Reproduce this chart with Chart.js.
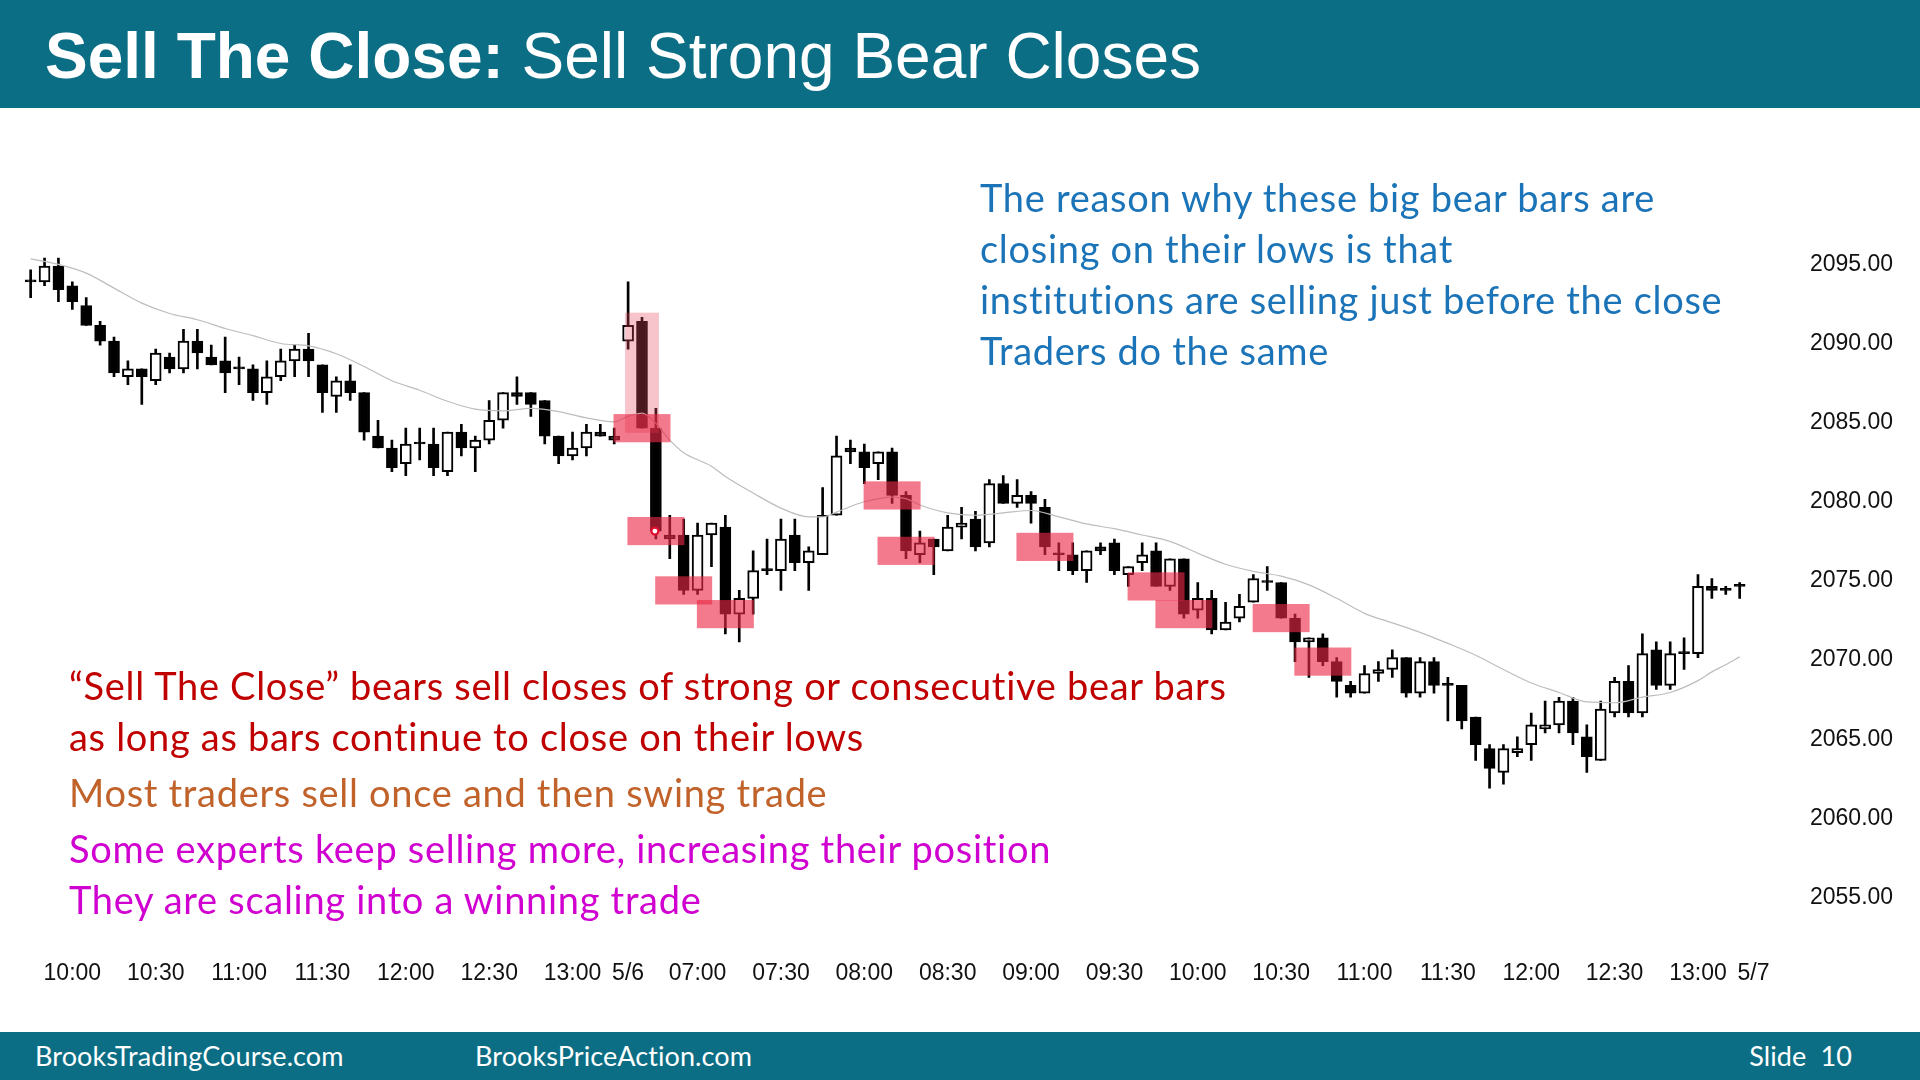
<!DOCTYPE html>
<html lang="en">
<head>
<meta charset="utf-8">
<title>Sell The Close</title>
<script src="https://cdn.jsdelivr.net/npm/chart.js@4.4.0/dist/chart.umd.min.js"></script>
<style>
  html, body { margin: 0; padding: 0; }
  body { width: 1920px; height: 1080px; position: relative; overflow: hidden; background: #fff; font-family: Lato, "Open Sans", sans-serif; }
  .band { position: absolute; left: 0; width: 1920px; background: #0b6e85; color: #fff; }
  #header { top: 0; height: 108px; }
  #title { position: absolute; left: 45px; top: 2px; line-height: 108px; font-family: "Liberation Sans", Arial, sans-serif; font-size: 64px; white-space: nowrap; }
  #footer { top: 1032px; height: 48px; font-size: 27px; line-height: 48px; letter-spacing: 0.1px; }
  #footer span { position: absolute; top: 0; white-space: nowrap; }
  #chartBox { position: absolute; left: 0; top: 108px; width: 1920px; height: 924px; }
  .note { position: absolute; white-space: nowrap; font-size: 38px; letter-spacing: 0.7px; line-height: 51px; }
</style>
</head>
<body>
<div id="header" class="band"><div id="title"><b>Sell The Close:</b> Sell Strong Bear Closes</div></div>

<div id="chartBox"><canvas id="priceChart" width="1920" height="924"></canvas></div>

<div class="note" style="left:980px; top:172px; color:#1b74b8;">The reason why these big bear bars are<br>closing on their lows is that<br>institutions are selling just before the close<br>Traders do the same</div>
<div class="note" style="left:69px; top:660px; color:#c00000;">“Sell The Close” bears sell closes of strong or consecutive bear bars<br>as long as bars continue to close on their lows</div>
<div class="note" style="left:69px; top:767px; color:#c0622a;">Most traders sell once and then swing trade</div>
<div class="note" style="left:69px; top:823px; color:#d000d0;">Some experts keep selling more, increasing their position<br>They are scaling into a winning trade</div>

<div id="footer" class="band">
  <span style="left:35px">BrooksTradingCourse.com</span>
  <span style="left:475px">BrooksPriceAction.com</span>
  <span style="right:68px">Slide&nbsp;&nbsp;10</span>
</div>

<script>
// 5 minuutin kynttilät: [open, high, low, close]
const day1Bars = [
  [2093.75, 2094.5, 2092.75, 2093.75],
  [2093.75, 2095.25, 2093.5, 2094.75],
  [2094.75, 2095.25, 2092.5, 2093.25],
  [2093.5, 2093.75, 2092.0, 2092.5],
  [2092.25, 2092.75, 2091.0, 2091.0],
  [2091.0, 2091.25, 2089.75, 2090.0],
  [2090.0, 2090.25, 2087.75, 2088.0],
  [2087.75, 2088.75, 2087.25, 2088.25],
  [2088.25, 2088.25, 2086.0, 2087.75],
  [2087.5, 2089.5, 2087.25, 2089.25],
  [2089.0, 2089.25, 2088.0, 2088.25],
  [2088.25, 2090.75, 2088.0, 2090.0],
  [2090.0, 2090.75, 2088.25, 2089.25],
  [2089.0, 2089.75, 2088.5, 2088.5],
  [2088.75, 2090.25, 2086.75, 2088.0],
  [2088.25, 2089.0, 2087.25, 2088.25],
  [2088.25, 2088.5, 2086.25, 2086.75],
  [2086.75, 2088.75, 2086.0, 2087.75],
  [2087.75, 2089.5, 2087.5, 2088.75],
  [2088.75, 2089.75, 2087.75, 2089.5],
  [2089.5, 2090.5, 2087.75, 2088.75],
  [2088.5, 2088.5, 2085.5, 2086.75],
  [2086.5, 2087.75, 2085.5, 2087.5],
  [2087.5, 2088.5, 2086.25, 2086.75],
  [2086.75, 2086.75, 2083.75, 2084.25],
  [2084.0, 2085.0, 2083.25, 2083.25],
  [2083.25, 2083.75, 2081.75, 2082.0],
  [2082.25, 2084.5, 2081.5, 2083.5],
  [2083.5, 2084.5, 2082.5, 2083.5],
  [2083.5, 2084.5, 2081.5, 2082.0],
  [2081.75, 2084.25, 2081.5, 2084.25],
  [2084.25, 2084.75, 2082.75, 2083.25],
  [2083.25, 2084.0, 2081.75, 2083.75],
  [2083.75, 2086.25, 2083.5, 2085.0],
  [2085.0, 2086.75, 2084.5, 2086.75],
  [2086.75, 2087.75, 2086.0, 2086.5],
  [2086.75, 2086.75, 2085.25, 2086.0],
  [2086.25, 2086.25, 2083.5, 2084.0],
  [2084.0, 2084.0, 2082.25, 2082.75],
  [2082.75, 2084.25, 2082.5, 2083.25],
  [2083.25, 2084.75, 2082.75, 2084.25],
  [2084.25, 2084.75, 2084.0, 2084.0],
  [2084.0, 2084.5, 2083.5, 2083.75]
];

const day2Bars = [
  [2090.0, 2093.75, 2089.5, 2091.0],
  [2091.25, 2091.5, 2084.5, 2084.5],
  [2084.5, 2085.75, 2077.5, 2078.0],
  [2077.75, 2079.0, 2076.25, 2077.5],
  [2077.75, 2078.75, 2074.0, 2074.25],
  [2074.25, 2078.5, 2074.0, 2077.75],
  [2077.75, 2078.5, 2075.75, 2078.5],
  [2078.25, 2079.0, 2071.5, 2072.75],
  [2072.75, 2074.25, 2071.0, 2073.75],
  [2073.75, 2076.75, 2072.75, 2075.5],
  [2075.5, 2077.5, 2075.25, 2075.5],
  [2075.5, 2078.75, 2074.25, 2077.5],
  [2077.75, 2078.75, 2075.5, 2076.0],
  [2076.0, 2077.0, 2074.25, 2076.75],
  [2076.5, 2080.75, 2076.5, 2079.0],
  [2079.0, 2084.0, 2079.0, 2082.75],
  [2083.25, 2083.75, 2082.25, 2083.0],
  [2083.0, 2083.5, 2081.0, 2082.0],
  [2082.25, 2083.0, 2081.25, 2083.0],
  [2083.0, 2083.25, 2079.75, 2080.25],
  [2080.25, 2080.5, 2076.25, 2076.75],
  [2076.5, 2078.0, 2076.0, 2077.25],
  [2077.5, 2077.5, 2075.25, 2077.0],
  [2076.75, 2079.0, 2076.75, 2078.25],
  [2078.25, 2079.5, 2077.5, 2078.5],
  [2078.75, 2079.25, 2076.75, 2077.0],
  [2077.25, 2081.25, 2077.0, 2081.0],
  [2081.0, 2081.5, 2079.75, 2079.75],
  [2079.75, 2081.25, 2079.5, 2080.25],
  [2080.25, 2080.5, 2078.5, 2079.75],
  [2079.5, 2080.0, 2076.5, 2077.0],
  [2076.5, 2077.25, 2075.5, 2076.5],
  [2076.5, 2077.25, 2075.25, 2075.5],
  [2075.5, 2076.75, 2074.75, 2076.75],
  [2077.0, 2077.25, 2076.5, 2076.75],
  [2077.25, 2077.5, 2075.25, 2075.5],
  [2075.25, 2075.75, 2074.5, 2075.75],
  [2076.0, 2077.25, 2075.5, 2076.5],
  [2076.75, 2077.25, 2074.5, 2074.5],
  [2074.5, 2076.25, 2074.25, 2076.25],
  [2076.25, 2076.25, 2072.5, 2072.75],
  [2073.0, 2074.75, 2072.5, 2073.75],
  [2073.75, 2074.25, 2071.5, 2071.75],
  [2071.75, 2073.5, 2071.75, 2072.25],
  [2072.5, 2074.0, 2072.25, 2073.25],
  [2073.5, 2075.25, 2073.5, 2075.0],
  [2074.75, 2075.75, 2074.25, 2074.75],
  [2074.75, 2074.75, 2072.5, 2072.5],
  [2072.5, 2072.75, 2069.75, 2071.0],
  [2071.0, 2071.25, 2068.75, 2071.25],
  [2071.25, 2071.5, 2069.5, 2069.75],
  [2069.75, 2070.0, 2067.5, 2068.5],
  [2068.25, 2068.5, 2067.5, 2067.75],
  [2067.75, 2069.5, 2067.75, 2069.0],
  [2069.0, 2069.75, 2068.5, 2069.25],
  [2069.25, 2070.5, 2068.75, 2070.0],
  [2070.0, 2070.0, 2067.5, 2067.75],
  [2067.75, 2070.0, 2067.5, 2069.75],
  [2069.75, 2070.0, 2067.75, 2068.25],
  [2068.25, 2068.75, 2066.0, 2068.25],
  [2068.25, 2068.25, 2065.5, 2066.0],
  [2066.25, 2066.25, 2063.5, 2064.5],
  [2064.25, 2064.5, 2061.75, 2063.0],
  [2062.75, 2064.5, 2062.0, 2064.25],
  [2064.0, 2065.0, 2063.75, 2064.25],
  [2064.5, 2066.5, 2063.5, 2065.75],
  [2065.5, 2067.25, 2065.25, 2065.75],
  [2065.75, 2067.5, 2065.25, 2067.25],
  [2067.25, 2067.5, 2064.5, 2065.25],
  [2065.0, 2065.75, 2062.75, 2063.75],
  [2063.5, 2067.25, 2063.5, 2066.75],
  [2066.5, 2068.75, 2066.25, 2068.5],
  [2068.5, 2069.5, 2066.25, 2066.5],
  [2066.5, 2071.5, 2066.25, 2070.25],
  [2070.5, 2071.0, 2068.0, 2068.25],
  [2068.25, 2071.0, 2068.0, 2070.25],
  [2070.25, 2071.25, 2069.25, 2070.25],
  [2070.25, 2075.25, 2070.0, 2074.5],
  [2074.5, 2075.0, 2073.75, 2074.25],
  [2074.25, 2074.5, 2074.0, 2074.25],
  [2074.5, 2074.75, 2073.75, 2074.5]
];

// harmaa liukuva keskiarvo, luettu kuvasta: [kynttilän indeksi, arvo]
const emaLine = [
  [0, 2095.2], [2, 2094.85], [4, 2094.3], [6, 2093.35], [8, 2092.4], [10, 2091.75],
  [12, 2091.35], [14, 2090.8], [16, 2090.35], [18, 2089.85], [20, 2089.7], [22, 2089.2],
  [24, 2088.4], [26, 2087.5], [28, 2086.9], [30, 2086.2], [32, 2085.7], [34, 2085.6],
  [36, 2085.75], [38, 2085.55], [40, 2085.15], [42, 2084.9], [43, 2085.25], [44, 2085.45],
  [45, 2084.8], [46, 2083.75], [47, 2082.95], [49, 2082.1], [50, 2081.45], [52, 2080.4],
  [54, 2079.45], [56, 2078.9], [57, 2078.9], [58, 2079.2], [60, 2079.85], [62, 2080.15],
  [63, 2080.05], [64, 2079.65], [66, 2079.15], [68, 2079.0], [70, 2079.15], [72, 2079.3],
  [74, 2078.9], [76, 2078.45], [78, 2078.15], [80, 2077.75], [82, 2077.35], [84, 2076.6],
  [86, 2075.9], [88, 2075.45], [90, 2075.15], [92, 2074.6], [94, 2073.75], [96, 2072.8],
  [98, 2072.2], [100, 2071.6], [102, 2070.9], [104, 2070.15], [106, 2069.25], [108, 2068.4],
  [110, 2067.8], [112, 2067.2], [114, 2067.15], [116, 2067.5], [118, 2067.8], [120, 2068.55],
  [121, 2069.1], [122, 2069.55], [123, 2070.05]
];

// punaiset laatikot: kynttilät joiden sulkeutumishinta on merkitty
const zoneBars = [44, 45, 47, 50, 62, 63, 73, 81, 83, 90, 93];
const bodyZone = { bar: 44, top: 2091.8, bottom: 2084.2 };
const cursorBar = 45;

const yTicks = [2095, 2090, 2085, 2080, 2075, 2070, 2065, 2060, 2055];

const sessions = [
  { date: '5/5', from: '09:45', to: '13:15' },
  { date: '5/6', from: '06:35', to: '13:15' },
  { date: '5/7', from: '06:35', to: '06:35' }
];

const pad = n => String(n).padStart(2, '0');
const toMin = s => { const [h, m] = s.split(':').map(Number); return h * 60 + m; };

const labels = [];
sessions.forEach(s => {
  for (let t = toMin(s.from); t <= toMin(s.to); t += 5) {
    labels.push(s.date + ' ' + pad(Math.floor(t / 60)) + ':' + pad(t % 60));
  }
});

const bars = day1Bars.concat(day2Bars);

const zonePlugin = {
  id: 'closeZones',
  afterDatasetsDraw(chart) {
    const { ctx, scales: { x, y } } = chart;
    const step = x.getPixelForValue(1) - x.getPixelForValue(0);
    ctx.save();

    // iso vaalea laatikko suuren karhukynttilän päällä
    const bx = x.getPixelForValue(bodyZone.bar);
    const top = y.getPixelForValue(bodyZone.top);
    ctx.fillStyle = 'rgba(232, 70, 95, 0.32)';
    ctx.fillRect(bx - step * 1.22, top, step * 2.44, y.getPixelForValue(bodyZone.bottom) - top);

    ctx.fillStyle = 'rgba(234, 40, 70, 0.62)';
    zoneBars.forEach(i => {
      const close = bars[i][3];
      const cx = x.getPixelForValue(i);
      const y1 = y.getPixelForValue(close + 0.89);
      const y2 = y.getPixelForValue(close - 0.89);
      ctx.fillRect(cx - step * 2.05, y1, step * 4.1, y2 - y1);
    });

    // punainen rengas
    ctx.beginPath();
    ctx.arc(x.getPixelForValue(cursorBar) - 1, y.getPixelForValue(bars[cursorBar][3]), 3.5, 0, Math.PI * 2);
    ctx.fillStyle = '#fff';
    ctx.fill();
    ctx.lineWidth = 2.2;
    ctx.strokeStyle = '#e0102f';
    ctx.stroke();
    ctx.restore();
  }
};

const ctx = document.getElementById('priceChart').getContext('2d');

new Chart(ctx, {
  type: 'bar',
  data: {
    labels: labels,
    datasets: [
      {
        label: 'EMA',
        type: 'line',
        data: emaLine.map(p => ({ x: labels[p[0]], y: p[1] })),
        borderColor: '#bdbdbd',
        borderWidth: 1.2,
        pointRadius: 0,
        cubicInterpolationMode: 'monotone',
        order: 0
      },
      {
        label: 'body',
        data: bars.map(b => [b[0], b[3]]),
        backgroundColor: c => {
          const b = bars[c.dataIndex];
          return b && b[3] > b[0] ? '#fff' : '#000';
        },
        borderColor: '#000',
        borderWidth: 2,
        borderSkipped: false,
        barThickness: 11,
        minBarLength: 2,
        grouped: false,
        order: 1
      },
      {
        label: 'wick',
        data: bars.map(b => [b[2], b[1]]),
        backgroundColor: '#000',
        borderWidth: 0,
        barThickness: 2,
        grouped: false,
        order: 2
      }
    ]
  },
  options: {
    responsive: false,
    animation: false,
    layout: { padding: { left: 23.7, top: 74.9, right: 0, bottom: 0 } },
    plugins: {
      legend: { display: false },
      tooltip: { enabled: false }
    },
    scales: {
      x: {
        type: 'category',
        offset: true,
        grid: { display: false, drawTicks: false },
        border: { display: false },
        afterFit: s => { s.height = 89.5; },
        ticks: {
          autoSkip: false,
          maxRotation: 0,
          minRotation: 0,
          padding: 17.5,
          color: '#111',
          font: { family: '"Liberation Sans", Arial, sans-serif', size: 23 },
          callback: function (v) {
            const [d, t] = this.getLabelForValue(v).split(' ');
            if (v > 0 && labels[v - 1].split(' ')[0] !== d) return d;
            return t.endsWith(':00') || t.endsWith(':30') ? t : '';
          }
        }
      },
      y: {
        position: 'right',
        min: 2052,
        max: 2100,
        grid: { display: false, drawTicks: false },
        border: { display: false },
        afterFit: s => { s.width = 159.5; },
        afterBuildTicks: s => { s.ticks = yTicks.map(v => ({ value: v })); },
        ticks: {
          padding: 49.5,
          labelOffset: 2.5,
          color: '#111',
          font: { family: '"Liberation Sans", Arial, sans-serif', size: 23 },
          callback: v => v.toFixed(2)
        }
      }
    }
  },
  plugins: [zonePlugin]
});
</script>
</body>
</html>
